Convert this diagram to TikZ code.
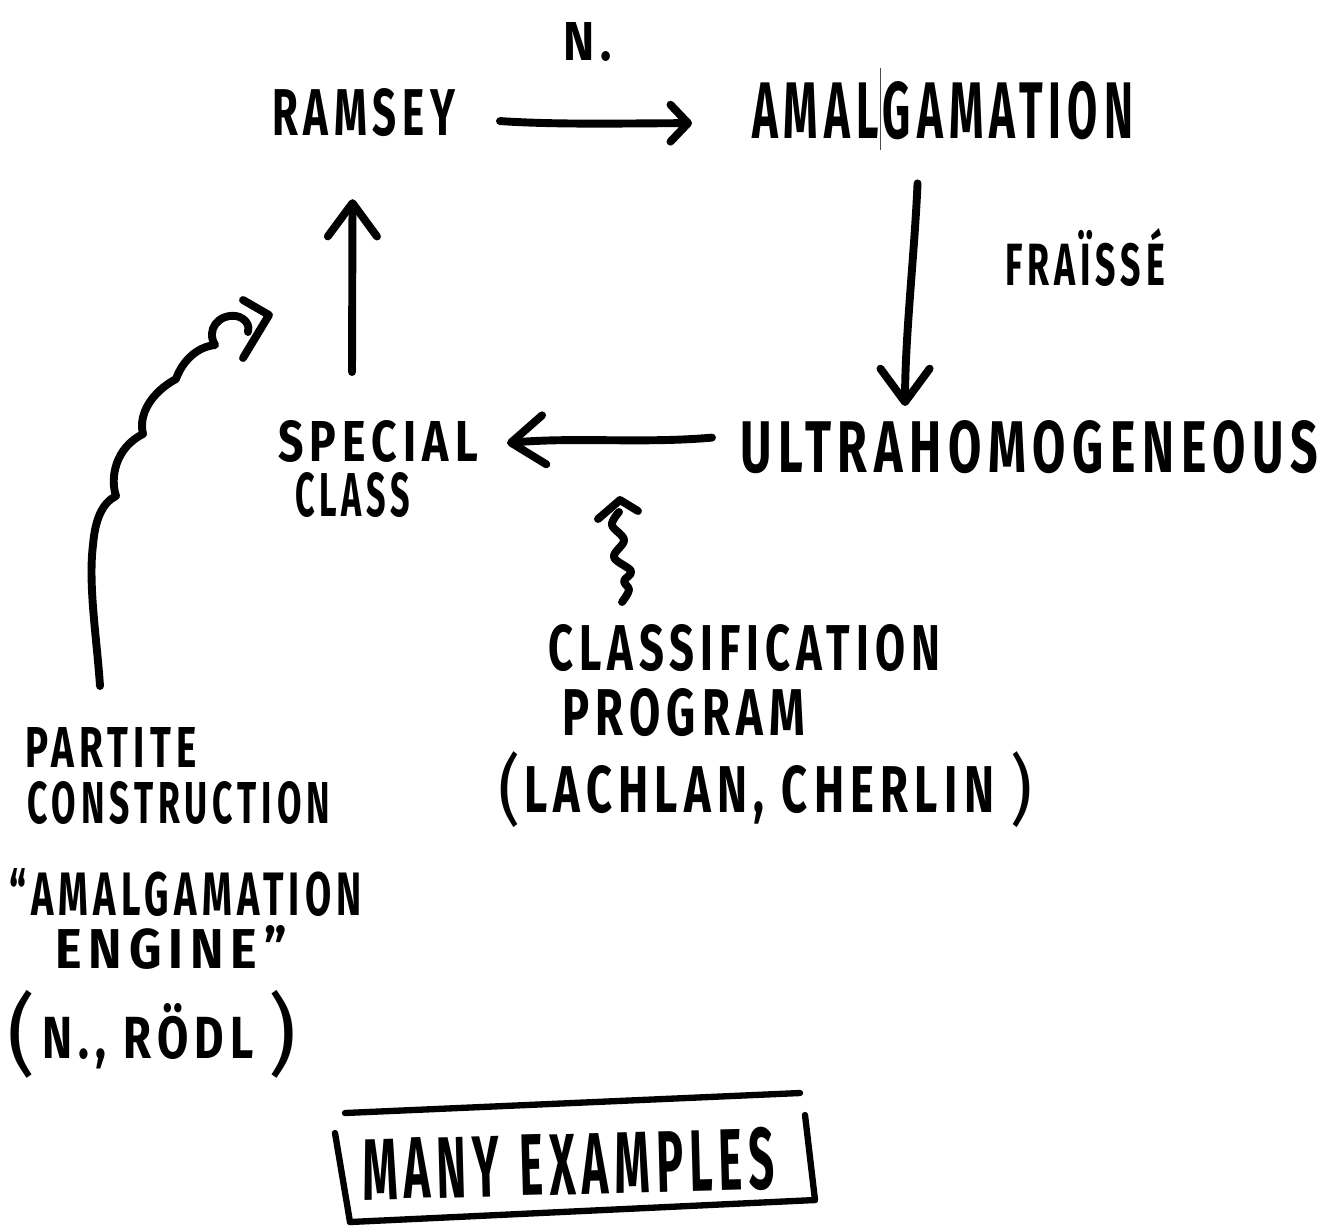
\documentclass[tikz,border=0pt]{standalone}
\usepackage{fontspec}
\setmainfont{Fira Sans}
\newfontfamily\handfont[LetterSpace=14]{Fira Sans}
\usetikzlibrary{arrows.meta}
% one unit of the sketch grid
\newdimen\pxu \pxu=0.02cm
% lettering squeezed to a given width and cap height
\newcommand\hw[3]{\resizebox{#1\pxu}{#2\pxu}{#3}}
% same, but the height is the total height (for parentheses)
\newcommand\hwt[3]{\resizebox*{#1\pxu}{#2\pxu}{#3}}
\tikzset{
  tipS/.tip={Straight Barb[length=10pt,width=21pt,round]},
  tipL/.tip={Straight Barb[length=19pt,width=28pt,round]},
  lbl/.style={inner sep=0pt, outer sep=0pt, anchor=base west, font=\handfont\bfseries},
  paren/.style={inner sep=0pt, outer sep=0pt, anchor=north west, font=\handfont},
  ink/.style={line width=4.5pt, line cap=round, line join=round},
  thinink/.style={line width=3.6pt, line cap=round, line join=round},
}
\begin{document}
\begin{tikzpicture}[x=0.02cm,y=-0.02cm]
\useasboundingbox (0,0) rectangle (1331,1228);

% --- labels ---
\node[lbl] (nlabel) at (563,60)  {\hw{49}{38}{N.}};
\node[lbl] (ramsey) at (272,135) {\hw{183}{47}{RAMSEY}};
\node[lbl] (amal)   at (752,138) {\hw{381}{57}{AMALGAMATION}};
\node[lbl] (fraisse) at (1005,285) {\hw{160}{57}{FRAÏSSÉ}};
\node[lbl] (ultra)  at (740,472) {\hw{578}{52}{ULTRAHOMOGENEOUS}};
\node[lbl] (special) at (278,461) {\hw{200}{41}{SPECIAL}};
\node[lbl] (specialb) at (295,516) {\hw{115}{44}{CLASS}};
\node[lbl] (classif) at (548,670) {\hw{392}{46}{CLASSIFICATION}};
\node[lbl] (program) at (562,735) {\hw{243}{47}{PROGRAM}};
\node[paren] (lpA) at (498,752) {\hwt{22}{76}{(}};
\node[lbl] (lachlan) at (524,812) {\hw{470}{47}{LACHLAN, CHERLIN}};
\node[paren] (rpA) at (1010,752) {\hwt{22}{76}{)}};
\node[lbl] (partite) at (25,767) {\hw{172}{40}{PARTITE}};
\node[lbl] (construct) at (27,823) {\hw{303}{42}{CONSTRUCTION}};
\node[lbl] (engineA) at (10,915) {\hw{352}{47}{“AMALGAMATION}};
\node[lbl] (engineB) at (55,968) {\hw{232}{43}{ENGINE”}};
\node[paren] (lpB) at (8,990) {\hwt{28}{88}{(}};
\node[lbl] (nrodl) at (42,1058) {\hw{212}{55}{N., RÖDL}};
\node[paren] (rpB) at (268,990) {\hwt{28}{88}{)}};
\node[lbl, rotate=1.5] (many) at (363,1200) {\hw{412}{62}{MANY\hspace{0.45em}EXAMPLES}};

% --- box round the last line ---
\draw[thinink] (345,1113) -- (800,1093);
\draw[thinink] (335,1133) -- (350,1222);
\draw[thinink] (350,1222) -- (815,1200);
\draw[thinink] (805,1115) -- (815,1200);

% --- faint rule through the top label ---
\draw[line width=0.5pt, black!70] (880,68) -- (880,150);

% --- main cycle of arrows ---
\draw[ink, -tipS] ([shift={(45,9)}]ramsey.east)
  .. controls +(60,4) and +(-60,0) .. ([shift={(-60,13)}]amal.west);
\draw[ink, -tipL] ([shift={(-25,44)}]amal.south)
  .. controls +(-3,70) and +(0,-70) .. ([shift={(-124,-14)}]ultra.north);
\draw[ink, -tipL] ([shift={(-28,-9)}]ultra.west)
  .. controls +(-70,6) and +(70,-6) .. ([shift={(29,2)}]special.east);
\draw[ink, -tipL] ([shift={(-26,-48)}]special.north) -- ([shift={(-11,63)}]ramsey.south);

% --- scalloped arrow from the partite construction ---
\coordinate (wstart) at ([shift={(-11,-41)}]partite.north);
\coordinate (wtip) at (269,315);
\draw[ink] (wstart)
  .. controls (97,640) and (88,585) .. (93,545)
  .. controls (95,520) and (102,503) .. (116,496)
  .. controls (110,478) and (115,448) .. (143,434)
  .. controls (138,414) and (152,392) .. (176,379)
  .. controls (182,362) and (196,347) .. (215,345)
  .. controls (206,330) and (218,314) .. (236,316)
  .. controls (246,318) and (250,326) .. (248,332);
\draw[ink] (243,300) -- (wtip) -- (243,358);

% --- squiggly arrow from the classification program ---
\coordinate (sstart) at ([shift={(-122,-22)}]classif.north);
\coordinate (stip) at (620,500);
\draw[ink] plot[smooth, tension=0.6] coordinates {
  (sstart) (629,590) (624,581) (631,571) (614,557) (624,540)
  (612,525) (619,512)};
\draw[ink] (598,519) -- (stip) -- (638,511);
\end{tikzpicture}
\end{document}
